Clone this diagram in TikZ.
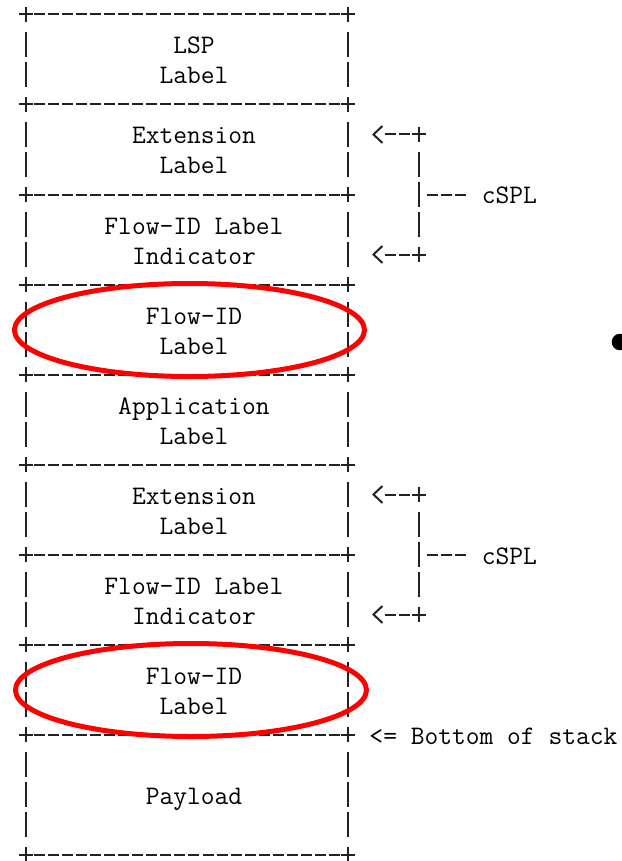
\documentclass[tikz,border=0pt]{standalone}
\usetikzlibrary{arrows.meta}
\definecolor{ink}{RGB}{34,34,34}
\definecolor{hlred}{RGB}{255,0,0}
\tikzset{
  x=1pt, y=-1pt,
  stackbox/.style={rectangle, draw=none, inner sep=0pt, outer sep=0pt, minimum width=322.92pt},
  asciitext/.style={font=\fontsize{26.74}{30}\selectfont\ttfamily, text=black,
    inner sep=0pt, outer sep=0pt, anchor=base},
  rule/.style={draw=ink, line width=2pt, dash pattern=on 11pt off 3.04pt, dash phase=5.5pt},
  side/.style={draw=ink, line width=2pt, dash pattern=on 25pt off 5pt},
  solidline/.style={draw=ink, line width=2pt},
  plusmark/.pic={\draw[solidline] (-7,0) -- (7,0) (0,-7.5) -- (0,7.5);},
  leader/.style={draw=ink, line width=2pt, shorten <=8.54pt,
    dash pattern=on 11pt off 3.04pt on 11pt off 3.04pt on 11pt off 60pt},
  pointer/.style={draw=ink, line width=2pt, shorten <=8.54pt, shorten >=23.6pt,
    dash pattern=on 11pt off 3.04pt on 11pt off 60pt,
    -{Straight Barb[length=9pt, width=17pt]}},
  highlight/.style={draw=hlred, line width=5pt},
}
\begin{document}
\begin{tikzpicture}
\fill[white] (0,0) rectangle (621,861);
\useasboundingbox (0,0) rectangle (621,861);

% label stack cells
\node[stackbox, minimum height=90pt]  (lsp)  at (186.96, 59.5)  {};
\node[stackbox, minimum height=90pt]  (ext1) at (186.96, 149.5) {};
\node[stackbox, minimum height=90pt]  (fli1) at (186.96, 239.5) {};
\node[stackbox, minimum height=90pt]  (fid1) at (186.96, 329.5) {};
\node[stackbox, minimum height=90pt]  (app)  at (186.96, 419.5) {};
\node[stackbox, minimum height=90pt]  (ext2) at (186.96, 509.5) {};
\node[stackbox, minimum height=90pt]  (fli2) at (186.96, 599.5) {};
\node[stackbox, minimum height=90pt]  (fid2) at (186.96, 689.5) {};
\node[stackbox, minimum height=120pt] (pay)  at (186.96, 794.5) {};

% cell borders drawn in the ASCII style: +----+ rules and | sides
\foreach \b in {lsp,ext1,fli1,fid1,app,ext2,fli2,fid2,pay} {
  \draw[rule] (\b.north west) -- (\b.north east);
  \draw[side] ([yshift=-17.5pt]\b.north west) -- ([yshift=17.5pt]\b.south west);
  \draw[side] ([yshift=-17.5pt]\b.north east) -- ([yshift=17.5pt]\b.south east);
  \pic at (\b.north west) {plusmark};
  \pic at (\b.north east) {plusmark};
}
\draw[rule] (pay.south west) -- (pay.south east);
\pic at (pay.south west) {plusmark};
\pic at (pay.south east) {plusmark};

% cell texts
\node[asciitext] (lsp-a)  at (193.98, 54)  {LSP};
\node[asciitext] (lsp-b)  at (193.98, 84)  {Label};
\node[asciitext] (ext1-a) at (193.98, 144) {Extension};
\node[asciitext] (ext1-b) at (193.98, 174) {Label};
\node[asciitext] (fli1-a) at (193.98, 234) {Flow-ID Label};
\node[asciitext] (fli1-b) at (193.98, 264) {Indicator};
\node[asciitext] (fid1-a) at (193.98, 324) {Flow-ID};
\node[asciitext] (fid1-b) at (193.98, 354) {Label};
\node[asciitext] (app-a)  at (193.98, 414) {Application};
\node[asciitext] (app-b)  at (193.98, 444) {Label};
\node[asciitext] (ext2-a) at (193.98, 504) {Extension};
\node[asciitext] (ext2-b) at (193.98, 534) {Label};
\node[asciitext] (fli2-a) at (193.98, 594) {Flow-ID Label};
\node[asciitext] (fli2-b) at (193.98, 624) {Indicator};
\node[asciitext] (fid2-a) at (193.98, 684) {Flow-ID};
\node[asciitext] (fid2-b) at (193.98, 714) {Label};
\node[asciitext] (pay-a)  at (193.98, 804) {Payload};

% cSPL brackets
\coordinate (c1a) at (418.62, 134.5);
\coordinate (c1m) at (418.62, 194.5);
\coordinate (c1b) at (418.62, 254.5);
\coordinate (c2a) at (418.62, 494.5);
\coordinate (c2m) at (418.62, 554.5);
\coordinate (c2b) at (418.62, 614.5);
\node[asciitext, anchor=base west] (cspl1) at (481.8, 204) {cSPL};
\node[asciitext, anchor=base west] (cspl2) at (481.8, 564) {cSPL};

\foreach \g/\ta/\tb/\lab in {1/ext1/fli1/cspl1, 2/ext2/fli2/cspl2} {
  \draw[side] ([yshift=-17.5pt]c\g a) -- ([yshift=17.5pt]c\g b);
  \pic at (c\g a) {plusmark};
  \pic at (c\g b) {plusmark};
  \draw[pointer] (c\g a) -- (\ta.east |- c\g a);
  \draw[pointer] (c\g b) -- (\tb.east |- c\g b);
  \draw[leader] (c\g m) -- (c\g m -| \lab.west);
}

% bottom of stack marker
\node[asciitext, anchor=base west] (bos) at (369.48, 744) {<= Bottom of stack};

% highlighted Flow-ID labels
\draw[highlight] ([xshift=2.5pt, yshift=-0.5pt]fid1.center) ellipse [x radius=175pt, y radius=46.5pt];
\draw[highlight] ([xshift=4pt, yshift=-0.5pt]fid2.center) ellipse [x radius=175.5pt, y radius=46.5pt];

% bullet
\node[circle, fill=black, minimum size=16.6pt, inner sep=0pt] (bullet) at (620, 342) {};
\end{tikzpicture}
\end{document}
